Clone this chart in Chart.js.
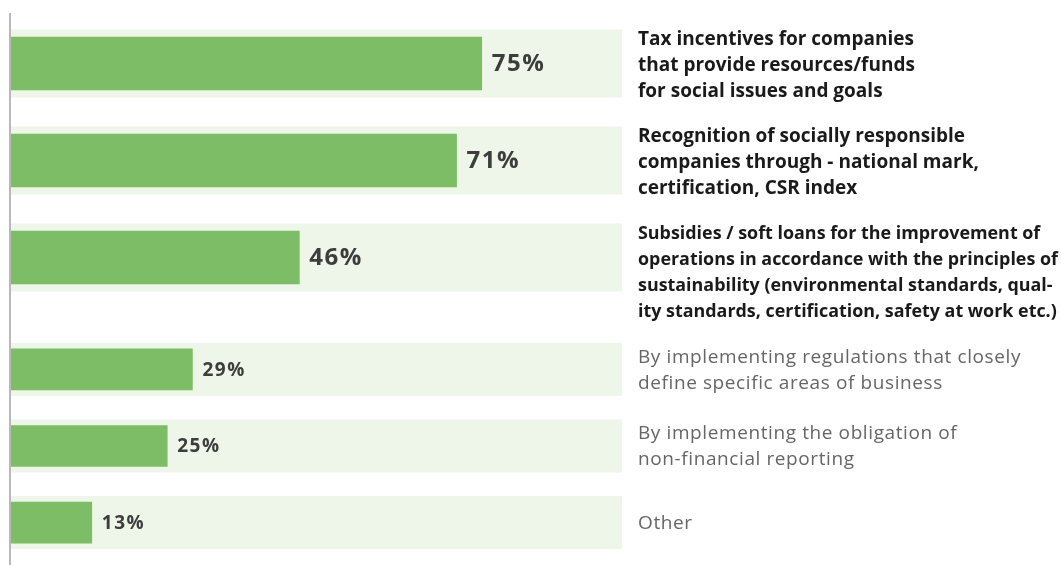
<!DOCTYPE html>
<html>
<head>
  <meta charset="utf-8" />
  <title>Preferred measures</title>
  <script src="https://cdn.jsdelivr.net/npm/chart.js"></script>
  <style>
    html, body {
      margin: 0;
      padding: 0;
      background: #fff;
    }

    .wrap {
      position: relative;
      width: 1061px;
      height: 565px;
    }

    /* one canvas for the three leading answers, one for the rest */
    .block {
      position: absolute;
      left: 0;
      width: 1061px;
    }
    #bottomBlock { top: 310px; height: 255px; }
    #topBlock { top: 0; height: 330px; }

    /* thin vertical baseline on the left */
    .axis {
      position: absolute;
      left: 9px;
      top: 13px;
      bottom: 0;
      width: 2px;
      background: #b9b9b9;
    }
  </style>
</head>
<body>
  <div class="wrap">
    <div class="block" id="bottomBlock"><canvas id="bottomChart"></canvas></div>
    <div class="block" id="topBlock"><canvas id="topChart"></canvas></div>
    <div class="axis"></div>
  </div>

  <script>
    // answers, each one split into the lines it is printed on
    const answers = [
      ['Tax incentives for companies', 'that provide resources/funds', 'for social issues and goals'],
      ['Recognition of socially responsible', 'companies through - national mark,', 'certification, CSR index'],
      ['Subsidies / soft loans for the improvement of', 'operations in accordance with the principles of',
       'sustainability (environmental standards, qual-', 'ity standards, certification, safety at work etc.)'],
      ['By implementing regulations that closely', 'define specific areas of business'],
      ['By implementing the obligation of', 'non-financial reporting'],
      ['Other']
    ];

    // share of respondents, %
    const shares = [75, 71, 46, 29, 25, 13];

    // the first answers are printed larger and in bold
    const leadingCount = 3;

    const X_MAX = 97.3;
    const GREEN = '#7cbd65';
    const TRACK = '#eef5e9';

    // light band behind each bar, value after the bar, answer text on the right
    const rowDecor = {
      id: 'rowDecor',
      beforeDatasetsDraw(chart, args, opts) {
        const { ctx, chartArea, scales: { y } } = chart;
        ctx.save();
        ctx.fillStyle = TRACK;
        chart.data.labels.forEach((_, i) => {
          const cy = y.getPixelForValue(i);
          ctx.fillRect(chartArea.left + 1, cy - opts.trackHeight / 2,
                       chartArea.right - chartArea.left - 1, opts.trackHeight);
        });
        ctx.restore();
      },
      afterDatasetsDraw(chart, args, opts) {
        const { ctx, chartArea } = chart;
        const meta = chart.getDatasetMeta(0);
        const data = chart.data.datasets[0].data;
        ctx.save();
        ctx.textAlign = 'left';
        ctx.textBaseline = 'middle';
        meta.data.forEach((bar, i) => {
          ctx.font = opts.valueFont;
          ctx.letterSpacing = opts.valueSpacing;
          ctx.fillStyle = '#3d3d3d';
          ctx.fillText(data[i] + '%', bar.x + 10, bar.y + 1);

          const lines = chart.data.labels[i];
          ctx.font = opts.labelWeight + ' ' + opts.labelSizes[i] + 'px "Open Sans"';
          ctx.letterSpacing = opts.labelSpacing;
          ctx.fillStyle = opts.labelColor;
          let first;
          if (opts.labelAlign === 'top') {
            first = bar.y - opts.trackHeight / 2 + 10;
          } else {
            first = bar.y - (lines.length - 1) * opts.lineHeight / 2 + 1;
          }
          lines.forEach((line, k) => {
            ctx.fillText(line, chartArea.right + 16, first + k * opts.lineHeight);
          });
        });
        ctx.restore();
      }
    };

    function makeChart(canvasId, labels, values, style) {
      return new Chart(document.getElementById(canvasId), {
        type: 'bar',
        data: {
          labels: labels,
          datasets: [{
            data: values,
            backgroundColor: GREEN,
            borderWidth: 0,
            barThickness: style.barThickness
          }]
        },
        options: {
          indexAxis: 'y',
          responsive: true,
          maintainAspectRatio: false,
          animation: false,
          layout: {
            padding: { left: 10, right: 439, top: style.padTop, bottom: style.padBottom }
          },
          scales: {
            x: { min: 0, max: X_MAX, display: false },
            y: { display: false, offset: true }
          },
          plugins: {
            legend: { display: false },
            tooltip: { enabled: false },
            rowDecor: style.decor
          }
        },
        plugins: [rowDecor]
      });
    }

    makeChart('topChart', answers.slice(0, leadingCount), shares.slice(0, leadingCount), {
      barThickness: 53,
      padTop: 15,
      padBottom: 24,
      decor: {
        trackHeight: 68,
        lineHeight: 26,
        labelAlign: 'top',
        valueFont: 'bold 24px "Open Sans"',
        valueSpacing: '1.5px',
        labelWeight: 'bold',
        labelSizes: [19, 19, 17.9],
        labelSpacing: '0px',
        labelColor: '#1a1a1a'
      }
    });

    makeChart('bottomChart', answers.slice(leadingCount), shares.slice(leadingCount), {
      barThickness: 41,
      padTop: 21,
      padBottom: 4,
      decor: {
        trackHeight: 53,
        lineHeight: 26,
        labelAlign: 'center',
        valueFont: 'bold 19px "Open Sans"',
        valueSpacing: '1.5px',
        labelWeight: 'normal',
        labelSizes: [19, 19, 19],
        labelSpacing: '0.6px',
        labelColor: '#666666'
      }
    });
  </script>
</body>
</html>
